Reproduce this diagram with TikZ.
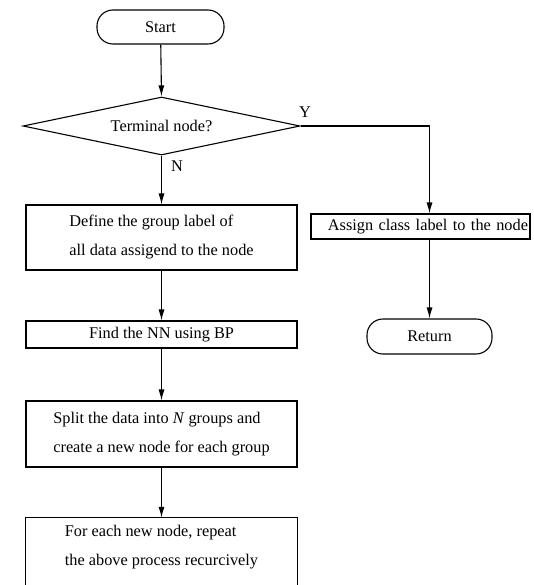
\documentclass[tikz,border=0pt]{standalone}
\usepackage{fontspec}
\setmainfont{Liberation Serif}
\usetikzlibrary{shapes.geometric,arrows.meta}
\begin{document}
\begin{tikzpicture}[x=1pt,y=-1pt,
  every node/.style={font=\fontsize{16.3}{29}\selectfont},
  line/.style={line width=1.1pt},
  term/.style={line, draw, rectangle, rounded corners=16pt, minimum width=127pt, minimum height=34pt, inner sep=0pt},
  proc/.style={line, draw, rectangle, minimum width=271pt, inner sep=0pt, align=left},
  decision/.style={line, draw, diamond, minimum width=277pt, minimum height=58pt, inner sep=0pt, aspect=4.8},
  arr/.style={line, -{Latex[length=11pt,width=6pt]}},
  lbl/.style={inner sep=0pt}]
\useasboundingbox (0,0) rectangle (533,585);
\clip (0,0) rectangle (533,585);
\node[term] (start) at (160.5,27) {Start};
\node[decision] (dec) at (161.5,126) {Terminal node?};
\node[proc, minimum height=65pt] (b1) at (161.5,237.5) {Define the group label of\\all data assigend to the node};
\node[proc, minimum height=27pt] (b2) at (161.5,334.5) {Find the NN using BP};
\node[proc, minimum height=66pt] (b3) at (161.5,434) {Split the data into \textit{N} groups and\\create a new node for each group};
\node[lbl, minimum width=271pt, minimum height=59pt, align=left] (b4) at (161.5,547.5) {For each new node, repeat\\the above process recurcively};
\draw[line] (b4.north west) rectangle ([yshift=-30pt]b4.south east);
\node[line, draw, rectangle, minimum height=25pt, inner xsep=2pt, inner ysep=0pt, text width=215pt, align=right] (assign) at (420.5,226.5) {Assign class label to the node};
\node[term, minimum width=125pt, minimum height=35pt] (ret) at (429.5,336.5) {Return};
\node[lbl] (ylab) at (305,112) {Y};
\node[lbl] (nlab) at (177,166) {N};
\draw[arr] (start) -- (dec.north);
\draw[arr] (dec.south) -- (b1.north);
\draw[arr] (b1) -- (b2);
\draw[arr] (b2) -- (b3);
\draw[arr] (b3) -- (b4.north);
\draw[arr] (dec.east) -| (ret.north |- assign.north);
\draw[arr] (ret.north |- assign.south) -- (ret.north);
\end{tikzpicture}
\end{document}
